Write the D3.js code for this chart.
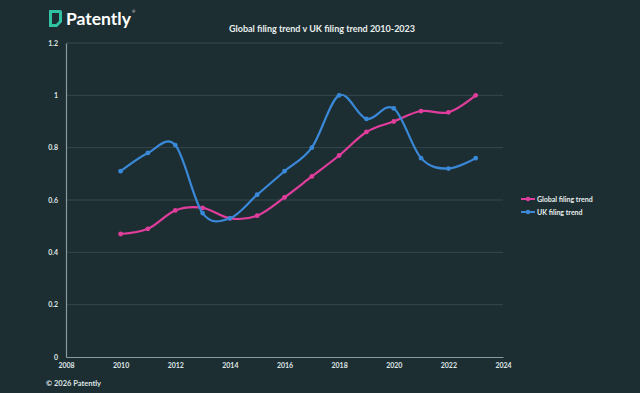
<!DOCTYPE html>
<html>
<head>
<meta charset="utf-8">
<script src="https://cdn.jsdelivr.net/npm/d3@7"></script>
<style>
	body { margin: 0; background: #1d2e32; }
	svg { display: block; }
</style>
</head>
<body>
<svg id="chart" width="640" height="393"></svg>
<script>
var YEARS = [2010, 2011, 2012, 2013, 2014, 2015, 2016, 2017, 2018, 2019, 2020, 2021, 2022, 2023];
var GLOBAL_TREND = [0.47, 0.49, 0.56, 0.57, 0.53, 0.54, 0.61, 0.69, 0.77, 0.86, 0.90, 0.94, 0.935, 1.0];
var UK_TREND = [0.71, 0.78, 0.81, 0.55, 0.53, 0.62, 0.71, 0.80, 1.0, 0.91, 0.95, 0.76, 0.72, 0.76];
var X_TICKS = [2008, 2010, 2012, 2014, 2016, 2018, 2020, 2022, 2024];
var Y_TICKS = [0, 0.2, 0.4, 0.6, 0.8, 1, 1.2];
var SERIES_NAMES = ["Global filing trend", "UK filing trend"];

var font = "Lato, 'Open Sans', sans-serif";
var svg = d3.select("#chart");

svg.append("rect")
	.attr("width", 640)
	.attr("height", 393)
	.attr("fill", "#1d2e32");

// logo
var logo = svg.append("g");
logo.append("path")
	.attr("d", "M49,10 H60 Q62,10 62,12 V22 L57,27 H49 Z M52,13 V24 H56 L59,21 V13 Z")
	.attr("fill", "#2fc3a3")
	.attr("fill-rule", "evenodd");
logo.append("text")
	.attr("x", 66)
	.attr("y", 25)
	.text("Patently")
	.attr("fill", "white")
	.attr("font-family", font)
	.attr("font-weight", "bold")
	.attr("font-size", 17.5);
logo.append("text")
	.attr("x", 132)
	.attr("y", 13)
	.text("®")
	.attr("fill", "white")
	.attr("font-family", font)
	.attr("font-size", 4);

// title
svg.append("text")
	.attr("x", 322)
	.attr("y", 32)
	.attr("text-anchor", "middle")
	.text("Global filing trend v UK filing trend 2010-2023")
	.attr("fill", "#e8eeee")
	.attr("font-family", font)
	.attr("font-weight", "bold")
	.attr("font-size", 9);

var x = d3.scaleLinear().domain([2008, 2024]).range([66, 503]);
var y = d3.scaleLinear().domain([0, 1.2]).range([357, 43]);

// gridlines
svg.append("g")
	.selectAll("line")
	.data(Y_TICKS.filter(function(d) { return d > 0; }))
	.join("line")
	.attr("x1", x(2008))
	.attr("x2", x(2024))
	.attr("y1", function(d) { return y(d); })
	.attr("y2", function(d) { return y(d); })
	.attr("stroke", "#34484c")
	.attr("stroke-width", 1);

// axes
var yAxis = svg.append("g")
	.attr("transform", "translate(" + x(2008) + ",0)")
	.call(d3.axisLeft(y).tickValues(Y_TICKS).tickSize(0).tickPadding(8)
		.tickFormat(function(d) { return String(d); }));
var xAxis = svg.append("g")
	.attr("transform", "translate(0," + y(0) + ")")
	.call(d3.axisBottom(x).tickValues(X_TICKS).tickSize(0).tickPadding(6)
		.tickFormat(d3.format("d")));

[yAxis, xAxis].forEach(function(a) {
	a.select(".domain").attr("stroke", "#8a9a9c").attr("stroke-width", 1.2);
	a.selectAll("text")
		.attr("fill", "#dfe6e6")
		.attr("font-family", font)
		.attr("font-weight", "bold")
		.attr("font-size", 7);
});

var colors = ["#e03d9c", "#3a88d8"];
var allSeries = [GLOBAL_TREND, UK_TREND];

var line = d3.line()
	.x(function(d, i) { return x(YEARS[i]); })
	.y(function(d) { return y(d); })
	.curve(d3.curveCatmullRom.alpha(0));

allSeries.forEach(function(vals, k) {
	var g = svg.append("g");
	g.append("path")
		.attr("d", line(vals))
		.attr("fill", "none")
		.attr("stroke", colors[k])
		.attr("stroke-width", 2.2);
	g.selectAll("circle")
		.data(vals)
		.join("circle")
		.attr("cx", function(d, i) { return x(YEARS[i]); })
		.attr("cy", function(d) { return y(d); })
		.attr("r", 2.4)
		.attr("fill", colors[k]);
});

// legend
var legend = svg.append("g");
SERIES_NAMES.forEach(function(name, k) {
	var ly = 199 + k * 13;
	legend.append("line")
		.attr("x1", 521).attr("x2", 535)
		.attr("y1", ly).attr("y2", ly)
		.attr("stroke", colors[k])
		.attr("stroke-width", 2);
	legend.append("circle")
		.attr("cx", 528).attr("cy", ly)
		.attr("r", 2.2)
		.attr("fill", colors[k]);
	legend.append("text")
		.attr("x", 537)
		.attr("y", ly)
		.attr("dominant-baseline", "central")
		.text(name)
		.attr("fill", "#e8eeee")
		.attr("font-family", font)
		.attr("font-weight", "bold")
		.attr("font-size", 7);
});

// footer
svg.append("text")
	.attr("x", 46)
	.attr("y", 386)
	.text("© 2026 Patently")
	.attr("fill", "#dfe6e6")
	.attr("font-family", font)
	.attr("font-weight", "bold")
	.attr("font-size", 7.5);
</script>
</body>
</html>
